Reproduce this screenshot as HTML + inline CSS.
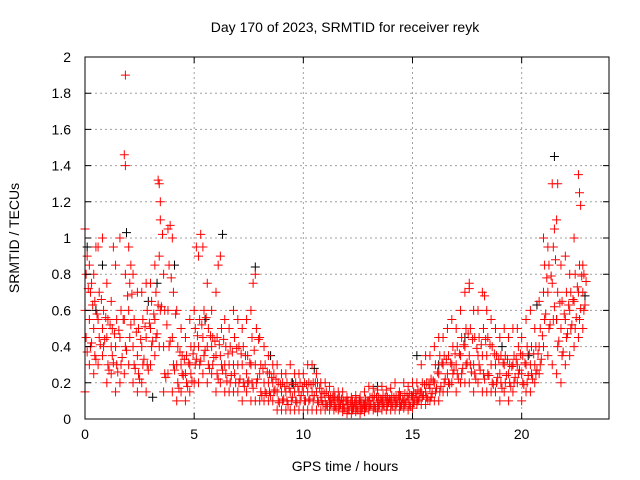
<!DOCTYPE html>
<html><head><meta charset="utf-8"><style>
html,body{margin:0;padding:0;background:#fff;}
svg{display:block;font-family:"Liberation Sans",sans-serif;}
</style></head><body>
<svg id="chart" width="640" height="480" viewBox="0 0 640 480" xmlns="http://www.w3.org/2000/svg">
<rect width="640" height="480" fill="#fff"/>
<text x="345" y="32" text-anchor="middle" font-size="14">Day 170 of 2023, SRMTID for receiver reyk</text>
<text x="345" y="471" text-anchor="middle" font-size="14">GPS time / hours</text>
<text x="0" y="0" transform="translate(19,238) rotate(-90)" text-anchor="middle" font-size="14">SRMTID / TECUs</text>
<g id="grid"></g><g id="marks"></g><g id="axes"></g>
</svg>
<script>
const binTimes=[0.0,0.2,0.4,0.6,0.8,1.0,1.2,1.4,1.6,1.8,2.0,2.2,2.4,2.6,2.8,3.0,3.2,3.4,3.6,3.8,4.0,4.2,4.4,4.6,4.8,5.0,5.2,5.4,5.6,5.8,6.0,6.2,6.4,6.6,6.8,7.0,7.2,7.4,7.6,7.8,8.0,8.2,8.4,8.6,8.8,9.0,9.2,9.4,9.6,9.8,10.0,10.2,10.4,10.6,10.8,11.0,11.2,11.4,11.6,11.8,12.0,12.2,12.4,12.6,12.8,13.0,13.2,13.4,13.6,13.8,14.0,14.2,14.4,14.6,14.8,15.0,15.2,15.4,15.6,15.8,16.0,16.2,16.4,16.6,16.8,17.0,17.2,17.4,17.6,17.8,18.0,18.2,18.4,18.6,18.8,19.0,19.2,19.4,19.6,19.8,20.0,20.2,20.4,20.6,20.8,21.0,21.2,21.4,21.6,21.8,22.0,22.2,22.4,22.6,22.8];
const redLow=[.15,.3,.25,.3,.35,.2,.25,.15,.2,.25,.3,.2,.15,.2,.15,.3,.35,.4,.15,.25,.15,.1,.15,.1,.15,.2,.2,.25,.2,.25,.15,.2,.15,.15,.15,.15,.1,.15,.1,.1,.1,.1,.1,.1,.05,.05,.05,.05,.05,.05,.05,.05,.05,.05,.05,.05,.05,.05,.05,.04,.03,.03,.04,.03,.04,.05,.05,.04,.05,.05,.05,.05,.05,.06,.05,.06,.08,.08,.08,.1,.1,.1,.15,.15,.2,.15,.2,.2,.2,.15,.2,.15,.15,.15,.15,.1,.15,.1,.15,.2,.1,.15,.15,.2,.25,.4,.35,.3,.25,.2,.3,.35,.4,.45,.5];
const redQ1=[.45,.4,.35,.45,.4,.3,.35,.3,.3,.4,.45,.3,.25,.3,.3,.4,.45,.6,.25,.4,.3,.2,.25,.2,.25,.3,.3,.35,.3,.3,.25,.3,.25,.2,.25,.2,.2,.2,.2,.2,.15,.15,.15,.15,.1,.1,.1,.1,.1,.1,.1,.1,.1,.1,.1,.08,.08,.07,.07,.06,.05,.05,.06,.05,.06,.07,.07,.07,.08,.07,.08,.08,.07,.08,.08,.09,.1,.12,.12,.12,.15,.15,.2,.2,.25,.25,.25,.3,.3,.25,.3,.25,.25,.2,.2,.2,.2,.2,.2,.25,.2,.2,.25,.25,.3,.55,.5,.55,.4,.35,.45,.5,.5,.55,.6];
const redMid=[.6,.55,.5,.55,.5,.45,.4,.4,.45,.55,.6,.4,.35,.4,.45,.5,.55,.9,.4,.6,.45,.3,.3,.25,.3,.4,.4,.45,.4,.4,.35,.35,.3,.3,.3,.3,.3,.25,.3,.3,.25,.2,.2,.2,.15,.15,.15,.15,.15,.15,.15,.15,.15,.15,.12,.1,.1,.1,.1,.08,.08,.07,.08,.07,.08,.1,.1,.09,.1,.1,.1,.1,.1,.1,.11,.12,.12,.15,.15,.17,.2,.25,.3,.25,.3,.3,.35,.4,.35,.3,.35,.35,.35,.3,.3,.25,.3,.25,.3,.3,.25,.3,.3,.3,.4,.7,.7,.75,.55,.5,.55,.6,.65,.7,.7];
const redQ3=[.8,.7,.65,.7,.6,.55,.5,.55,.6,.8,.75,.55,.5,.55,.6,.65,.7,1.1,.6,.85,.7,.4,.35,.35,.4,.5,.55,.6,.5,.45,.45,.5,.4,.4,.45,.4,.4,.35,.45,.5,.3,.3,.25,.25,.2,.2,.2,.2,.2,.2,.2,.2,.2,.2,.15,.15,.12,.12,.12,.1,.1,.1,.1,.09,.11,.12,.13,.12,.13,.12,.13,.12,.13,.14,.14,.15,.16,.2,.2,.22,.3,.35,.35,.35,.4,.4,.45,.5,.5,.45,.45,.5,.45,.4,.35,.35,.35,.3,.35,.4,.35,.4,.4,.4,.5,.85,.85,.95,.7,.65,.7,.7,.8,.85,.8];
const redHigh=[1.05,.85,.8,.95,1.0,.75,.65,.85,1.0,1.46,.95,.8,.7,.7,.75,.75,.85,1.3,.8,1.05,1.0,.6,.5,.45,.55,.6,.9,.95,.75,.6,.7,.9,.55,.5,.6,.55,.5,.55,.6,.8,.45,.4,.35,.3,.3,.25,.25,.3,.25,.25,.25,.3,.3,.25,.2,.2,.18,.15,.15,.15,.12,.12,.13,.12,.15,.18,.17,.16,.18,.16,.17,.2,.15,.2,.18,.2,.2,.3,.35,.35,.4,.45,.45,.5,.55,.5,.6,.7,.75,.6,.6,.7,.6,.55,.5,.45,.5,.45,.5,.5,.45,.55,.6,.5,.65,1.0,.95,1.3,1.1,.85,.9,.8,1.0,1.35,.85];
const redA=[.37,.42,.33,.41,.44,.27,.31,.26,.34,.38,.52,.28,.22,.33,.27,.43,.47,.62,.23,.43,.27,.17,.24,.18,.21,.33,.32,.38,.28,.34,.22,.27,.21,.24,.2,.22,.18,.21,.17,.22,.13,.14,.13,.16,.09,.11,.08,.12,.09,.13,.1,.11,.13,.09,.08,.07,.09,.06,.08,.06,.05,.06,.05,.06,.07,.08,.06,.08,.07,.09,.07,.09,.08,.09,.07,.1,.11,.13,.11,.14,.17,.18,.22,.19,.27,.22,.28,.31,.26,.22,.27,.22,.24,.19,.23,.17,.24,.18,.23,.27,.19,.24,.22,.27,.33,.58,.52,.62,.43,.37,.47,.52,.56,.61,.63];
const redB=[.72,.63,.58,.66,.56,.52,.47,.49,.55,.68,.69,.48,.44,.51,.53,.58,.63,1.02,.52,.78,.58,.37,.33,.31,.36,.46,.52,.56,.46,.43,.41,.44,.36,.37,.39,.36,.35,.31,.38,.44,.28,.26,.23,.22,.19,.18,.17,.19,.18,.18,.19,.19,.2,.17,.14,.13,.12,.11,.11,.1,.09,.09,.1,.08,.1,.12,.12,.11,.12,.11,.12,.13,.11,.13,.13,.14,.15,.19,.19,.21,.26,.31,.33,.31,.36,.36,.41,.47,.44,.39,.41,.44,.41,.36,.33,.31,.33,.29,.33,.36,.31,.36,.36,.36,.46,.78,.79,.88,.64,.58,.63,.66,.73,.79,.76];
const redExtraT=[1.85,1.85,3.35,3.45,21.5,21.65,22.65,22.7,0.1,0.3,2.1,5.3,3.9,17.6,18.3,7.7,6.1,5.1,1.3,0.5];
const redExtraV=[1.9,1.4,1.32,1.2,1.05,1.3,1.25,1.18,0.9,0.75,0.85,1.02,1.07,0.72,0.68,0.75,0.85,0.95,0.95,0.95];
const blackT=[0.1,0.5,1.9,3.3,5.5,6.3,7.8,10.5,13.4,15.2,17.4,20.3,20.7,21.5,21.6,22.9,4.1,2.9,8.5,12.6,0.8,9.5,3.1,16.2,19.1];
const blackV=[0.95,0.6,1.03,0.75,0.55,1.02,0.84,0.28,0.18,0.35,0.45,0.35,0.63,1.45,0.55,0.68,0.85,0.65,0.35,0.1,0.85,0.2,0.12,0.3,0.4];
const xTicks=[0,5,10,15,20];
const yTicks=[0,0.2,0.4,0.6,0.8,1,1.2,1.4,1.6,1.8,2];
const yTickLabels=["0","0.2","0.4","0.6","0.8","1","1.2","1.4","1.6","1.8","2"];

const NS="http://www.w3.org/2000/svg";
const L=85,R=609,T=57,B=419,XMAX=24,YMAX=2;
function xs(v){return L+(v/XMAX)*(R-L);}
function ys(v){return B-(v/YMAX)*(B-T);}
function mk(tag,attrs,parent){const e=document.createElementNS(NS,tag);for(const k in attrs)e.setAttribute(k,attrs[k]);parent.appendChild(e);return e;}
const grid=document.getElementById('grid'),marks=document.getElementById('marks'),axes=document.getElementById('axes');
xTicks.forEach((t,i)=>{
  const x=xs(t);
  if(t>0){const g=mk('line',{x1:x,x2:x,y1:T,y2:B,stroke:'#a0a0a0','stroke-dasharray':'2,3'},grid);
  
  }
  const tk=mk('path',{d:`M${x},${B}v-6M${x},${T}v6`,stroke:'#000'},axes);
  
  
  const lb=mk('text',{x:x,y:B+20,'text-anchor':'middle','font-size':14},axes);lb.textContent=String(t);
  
  
});
yTicks.forEach((t,i)=>{
  const y=ys(t);
  if(t>0&&t<YMAX){const g=mk('line',{x1:L,x2:R,y1:y,y2:y,stroke:'#a0a0a0','stroke-dasharray':'2,3'},grid);
  
  }
  const tk=mk('path',{d:`M${L},${y}h6M${R},${y}h-6`,stroke:'#000'},axes);
  
  
  const lb=mk('text',{x:71,y:y+5,'text-anchor':'end','font-size':14},axes);lb.textContent=yTickLabels[i];
  
  
});
const fr=mk('rect',{x:L,y:T,width:R-L,height:B-T,fill:'none',stroke:'#000'},axes);


function plus(t,v,color,name){
  const x=xs(t),y=ys(v);
  const p=mk('path',{d:`M${x-4.5},${y}h9M${x},${y-4.5}v9`,stroke:color,'stroke-width':1},marks);
  
  
}
blackT.forEach((t,i)=>plus(t,blackV[i],'#000','black-point'));
const seriesList=[redLow,redQ1,redMid,redQ3,redHigh,redA,redB];
const seriesOffset=[0,0.05,0,0.05,0,0.1,0.15];
seriesList.forEach((arr,k)=>{
  binTimes.forEach((t,i)=>plus(t+seriesOffset[k],arr[i],'#ff0000','red-point'));
});
redExtraT.forEach((t,i)=>plus(t,redExtraV[i],'#ff0000','red-point'));
</script>
</body></html>
